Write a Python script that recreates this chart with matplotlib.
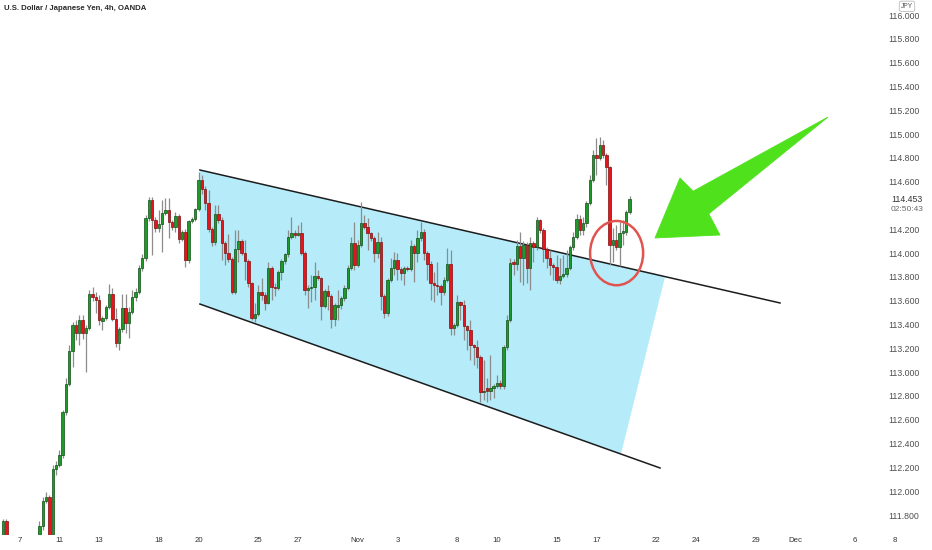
import matplotlib
matplotlib.use("Agg")
import matplotlib.pyplot as plt
import numpy as np
from matplotlib.patches import Polygon, Ellipse

# ---------------- data (USD/JPY 4h candles) ----------------
opens = [111.62,111.75,111.60,111.46,111.52,111.48,111.42,111.47,111.55,111.50,
         111.56,111.58,111.71,111.92,111.95,111.55,112.19,112.22,112.30,112.665,
         112.90,113.18,113.40,113.33,113.44,113.33,113.37,113.656,113.63,113.606,
         113.43,113.455,113.547,113.656,113.446,113.245,113.36,113.54,113.41,113.505,
         113.63,113.673,113.875,113.96,114.295,114.446,114.278,114.21,114.244,114.337,
         114.36,114.26,114.22,114.31,114.12,114.177,113.94,114.27,114.286,114.37,
         114.614,114.54,114.42,114.20,114.09,114.33,114.28,114.085,114.00,113.95,
         113.673,114.034,114.10,114.00,113.93,113.75,113.455,113.49,113.673,113.65,
         113.58,113.875,113.715,113.705,113.84,113.93,113.99,114.135,114.17,114.15,
         114.17,114.00,113.69,113.705,113.715,113.81,113.79,113.555,113.68,113.64,
         113.446,113.55,113.56,113.62,113.705,113.875,114.085,113.90,114.068,114.253,
         114.22,114.17,114.13,114.00,114.09,113.64,113.50,113.775,113.875,113.94,
         113.866,113.83,113.875,113.866,114.06,114.00,114.127,114.18,114.00,113.91,
         113.75,113.73,113.72,113.673,113.775,113.91,113.37,113.396,113.59,113.565,
         113.388,113.354,113.228,113.21,113.127,112.83,112.87,112.84,112.87,112.885,
         112.91,112.88,113.21,113.438,113.917,113.91,114.06,113.96,114.068,113.875,
         114.085,114.05,114.278,114.19,114.034,113.96,113.90,113.88,113.775,113.81,
         113.825,113.875,114.05,114.135,114.286,114.19,114.25,114.42,114.614,114.824,
         114.80,114.908,114.824,114.72,114.068,114.11,114.05,114.17,114.18,114.345]
highs = [111.77,111.77,111.62,111.55,111.58,111.56,111.50,111.58,111.60,111.58,
         111.635,111.75,111.95,111.99,111.97,112.22,112.25,112.35,112.68,112.95,
         113.23,113.42,113.44,113.48,113.48,113.40,113.69,113.715,113.67,113.65,
         113.47,113.56,113.74,113.71,113.54,113.38,113.66,113.66,113.55,113.69,
         113.71,113.90,113.99,114.32,114.47,114.47,114.30,114.36,114.446,114.46,
         114.46,114.28,114.345,114.33,114.19,114.20,114.28,114.30,114.38,114.68,
         114.66,114.56,114.53,114.22,114.40,114.40,114.30,114.10,114.16,113.97,
         114.19,114.19,114.12,114.11,113.95,113.76,113.58,113.73,113.79,113.67,
         113.925,113.89,113.75,113.86,113.95,114.00,114.19,114.30,114.19,114.236,
         114.26,114.02,113.73,113.82,113.925,113.86,113.80,113.70,113.73,113.66,
         113.58,113.69,113.64,113.73,113.90,114.135,114.26,114.11,114.43,114.32,
         114.295,114.18,114.14,114.18,114.135,113.66,113.79,113.96,114.01,114.00,
         113.88,113.89,113.89,114.11,114.08,114.19,114.26,114.20,114.02,113.93,
         113.84,113.925,113.74,113.80,114.04,114.026,113.41,113.65,113.60,113.606,
         113.40,113.44,113.24,113.27,113.14,113.10,112.95,113.14,112.90,112.98,
         112.93,113.23,113.48,113.96,113.95,114.11,114.18,114.10,114.09,114.135,
         114.10,114.30,114.29,114.21,114.05,114.026,113.92,113.98,113.96,113.98,
         114.026,114.07,114.18,114.33,114.32,114.30,114.44,114.655,114.866,114.97,
         114.975,114.95,114.84,114.73,114.21,114.236,114.26,114.278,114.36,114.48]
lows = [111.58,111.55,111.42,111.40,111.44,111.38,111.35,111.43,111.45,111.46,
        111.50,111.52,111.67,111.90,111.50,111.50,112.14,112.20,112.28,112.64,
        112.88,113.04,113.27,113.23,113.28,113.00,113.35,113.60,113.50,113.40,
        113.35,113.44,113.53,113.43,113.21,113.19,113.34,113.33,113.29,113.49,
        113.60,113.66,113.85,113.93,114.27,113.98,114.18,114.18,114.01,114.32,
        114.13,114.19,114.18,114.085,114.10,113.88,113.92,114.25,114.27,114.35,
        114.50,114.36,114.18,114.06,114.07,114.25,113.94,113.90,113.925,113.66,
        113.66,113.925,113.98,113.77,113.715,113.44,113.42,113.47,113.606,113.52,
        113.57,113.606,113.64,113.69,113.77,113.91,113.97,114.12,114.13,114.14,
        113.98,113.65,113.54,113.59,113.606,113.77,113.44,113.54,113.52,113.37,
        113.39,113.44,113.53,113.60,113.69,113.86,113.86,113.88,114.05,114.20,
        114.026,114.10,113.925,113.96,113.52,113.455,113.47,113.76,113.82,113.775,
        113.775,113.73,113.85,113.85,113.76,113.925,114.10,113.94,113.775,113.606,
        113.59,113.65,113.56,113.65,113.76,113.31,113.31,113.38,113.44,113.27,
        113.186,113.10,113.06,113.035,112.75,112.77,112.75,112.77,112.78,112.87,
        112.86,112.86,113.186,113.42,113.82,113.86,113.76,113.73,113.75,113.69,
        113.925,114.03,114.17,113.925,113.875,113.82,113.775,113.75,113.74,113.79,
        113.80,113.86,114.03,114.12,114.15,114.15,114.22,114.40,114.60,114.655,
        114.78,114.80,114.57,113.90,113.925,114.026,113.89,114.068,114.15,114.33]
closes = [111.75,111.60,111.46,111.52,111.48,111.42,111.47,111.55,111.50,111.56,
          111.58,111.71,111.92,111.95,111.55,112.19,112.22,112.30,112.665,112.90,
          113.18,113.40,113.33,113.44,113.33,113.37,113.656,113.63,113.606,113.438,
          113.455,113.547,113.656,113.446,113.245,113.36,113.54,113.41,113.505,113.63,
          113.673,113.875,113.96,114.295,114.446,114.278,114.21,114.244,114.337,114.36,
          114.26,114.22,114.31,114.12,114.177,113.94,114.27,114.286,114.37,114.614,
          114.54,114.42,114.20,114.09,114.33,114.28,114.085,114.00,113.95,113.673,
          114.034,114.10,114.00,113.93,113.75,113.455,113.49,113.673,113.65,113.58,
          113.875,113.715,113.705,113.84,113.93,113.99,114.135,114.17,114.15,114.17,
          114.00,113.69,113.705,113.715,113.81,113.79,113.555,113.68,113.64,113.446,
          113.56,113.56,113.62,113.705,113.875,114.085,113.90,114.068,114.253,114.22,
          114.17,114.13,114.00,114.09,113.64,113.50,113.775,113.875,113.94,113.866,
          113.83,113.875,113.866,114.06,114.00,114.127,114.18,114.00,113.91,113.75,
          113.73,113.72,113.673,113.775,113.91,113.37,113.396,113.59,113.565,113.388,
          113.354,113.228,113.21,113.127,112.83,112.84,112.84,112.87,112.885,112.91,
          112.88,113.21,113.438,113.917,113.91,114.06,113.96,114.068,113.875,114.085,
          114.05,114.278,114.19,114.034,113.96,113.90,113.88,113.775,113.81,113.825,
          113.875,114.05,114.135,114.286,114.19,114.25,114.42,114.614,114.824,114.80,
          114.908,114.824,114.72,114.068,114.11,114.05,114.17,114.18,114.345,114.453]

price_ticks = [116.0,115.8,115.6,115.4,115.2,115.0,114.8,114.6,114.2,114.0,113.8,
               113.6,113.4,113.2,113.0,112.8,112.6,112.4,112.2,112.0,111.8]
last_price = 114.453
countdown = "02:50:43"

time_labels = ['7','11','13','18','20','25','27','Nov','3','8','10','15','17',
               '22','24','29','Dec','6','8']
time_label_days = [1,3,5,8,10,13,15,18,20,23,25,28,30,33,35,38,40,43,45]  # trading day number
bars_per_day = 6
first_day_bar = 5

# drawings (bar index, price)
channel_upper_x = [59.4, 234.4]
channel_upper_y = [114.698, 113.581]
channel_lower_x = [59.4, 198.2]
channel_lower_y = [113.572, 112.195]
channel_fill = [(59.4, 114.698), (199.7, 113.80), (186.4, 112.31), (59.4, 113.572)]
circle_center = (185.1, 114.0)
circle_size = (16.0, 0.54)
arrow_shape = [(196.68, 114.127), (216.29, 114.152), (212.9, 114.33),
               (248.87, 115.143), (208.2, 114.52), (204.22, 114.631)]

# ---------------- figure ----------------
W, H = 932, 550
fig = plt.figure(figsize=(W / 100, H / 100), dpi=100)
ax = fig.add_axes([0, 1 - 535 / H, 880 / W, 535 / H])
ax.set_facecolor('white')
for s in ax.spines.values():
    s.set_visible(False)

ax.set_xlim(-0.905, 264.55)
ax.set_ylim(111.632, 116.126)

# channel
ax.add_patch(Polygon(channel_fill, closed=True, facecolor='#b6ecfa', edgecolor='none', zorder=1))
ax.plot(channel_upper_x, channel_upper_y, color='#1c1c1c', lw=1.1, zorder=2)
ax.plot(channel_lower_x, channel_lower_y, color='#1c1c1c', lw=1.1, zorder=2)

# candles
o = np.array(opens); h = np.array(highs); l = np.array(lows); c = np.array(closes)
x = np.arange(len(o))
up = c >= o
ax.vlines(x, l, h, color='#8c8c8c', lw=0.9, zorder=3)
bottoms = np.minimum(o, c)
heights = np.maximum(np.abs(c - o), 0.012)
ax.bar(x[up], heights[up], bottom=bottoms[up], width=0.72, color='#1f9a2a',
       edgecolor='#0f4f14', linewidth=0.5, zorder=4)
ax.bar(x[~up], heights[~up], bottom=bottoms[~up], width=0.72, color='#e8141b',
       edgecolor='#7c1010', linewidth=0.5, zorder=4)

# red circle & green arrow
ax.add_patch(Ellipse(circle_center, circle_size[0], circle_size[1], facecolor='none',
                     edgecolor='#e05450', lw=1.8, zorder=6))
ax.add_patch(Polygon(arrow_shape, closed=True, facecolor='#50e11d', edgecolor='#50e11d',
                     lw=0.6, joinstyle='miter', zorder=6))

# price scale
ax.yaxis.tick_right()
ax.set_yticks(price_ticks)
ax.set_yticklabels([f"{v:.3f}" for v in price_ticks])
ax.tick_params(axis='y', length=0, pad=6, labelsize=6.3, labelcolor='#505050')
for t in ax.get_yticklabels():
    t.set_fontfamily('Liberation Sans')
ax.set_xticks([])
tr = ax.get_yaxis_transform()
ax.text(907 / 880, last_price, f"{last_price:.3f}", transform=tr, ha='center', va='center',
        fontsize=6.3, color='#333333', family='Liberation Sans', clip_on=False)
ax.text(907 / 880, last_price - 0.085, countdown, transform=tr, ha='center', va='center',
        fontsize=6.0, color='#6a6a6a', family='Liberation Sans', clip_on=False)
ax.text(907 / 880, 116.073, "JPY", transform=tr, ha='center', va='center',
        fontsize=4.8, color='#555555', family='Liberation Sans', clip_on=False,
        bbox=dict(boxstyle='round,pad=0.25,rounding_size=0.3', fc='white', ec='#bbbbbb', lw=0.6))

# time scale
xtr = ax.get_xaxis_transform()
for lab, d in zip(time_labels, time_label_days):
    xpos = first_day_bar + bars_per_day * (d - 1)
    ax.text(xpos, -6 / 535, lab, transform=xtr, ha='center', va='center', fontsize=5.6,
            color='#333333', family='Liberation Sans', clip_on=False)

# title
fig.text(4 / W, 1 - 9 / H, "U.S. Dollar / Japanese Yen, 4h, OANDA", ha='left', va='center',
         fontsize=5.6, fontweight='bold', color='#2a2a2a', family='Liberation Sans')

fig.savefig('out.png', dpi=100, facecolor='white')
